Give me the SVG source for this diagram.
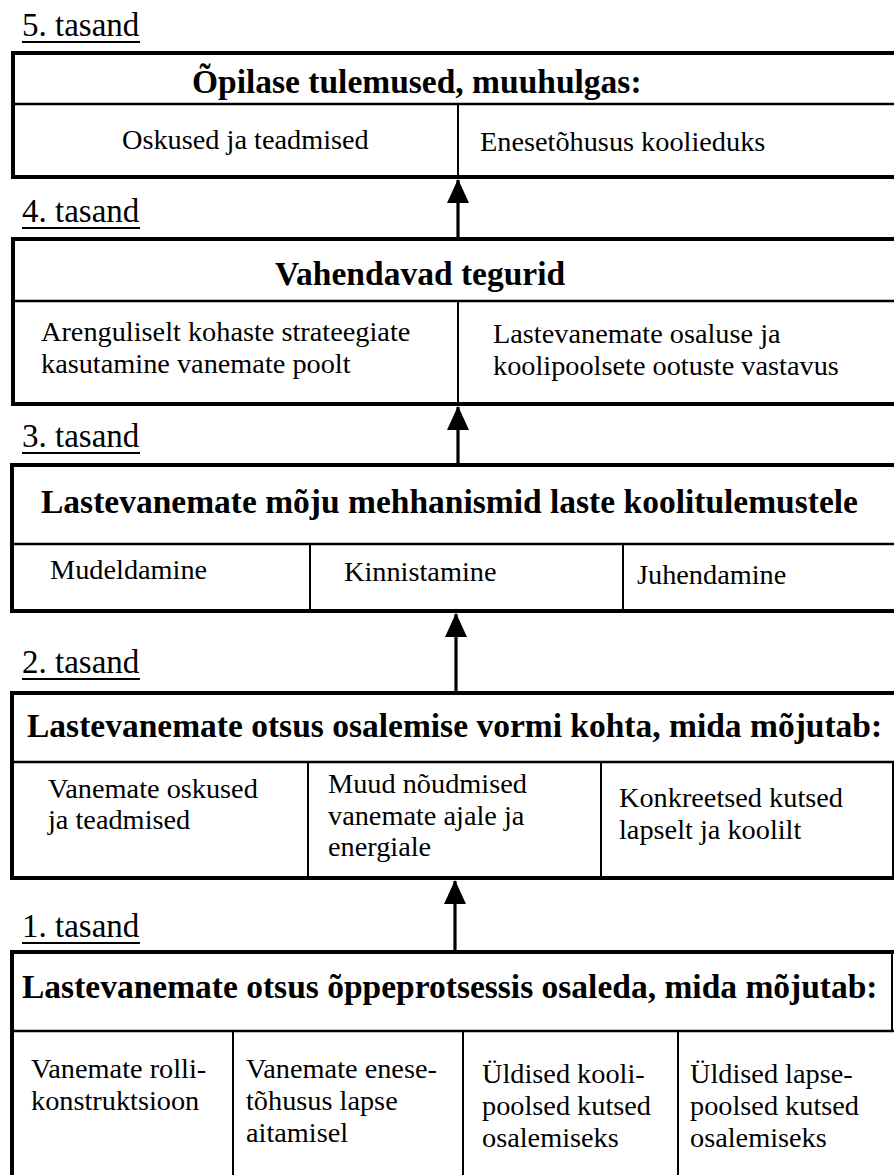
<svg xmlns="http://www.w3.org/2000/svg" width="894" height="1175" viewBox="0 0 894 1175">
  <defs>
    <marker id="arrowhead" markerUnits="userSpaceOnUse" markerWidth="24" markerHeight="26" refX="23" refY="11" orient="auto">
      <path d="M0,0 L24,11 L0,22 Z" fill="#000"/>
    </marker>
  </defs>
  <style>
    text { font-family: "Liberation Serif", "Times New Roman", serif; fill: #000; }
    .level { font-size: 33px; }
    .title { font-size: 33.5px; font-weight: bold; }
    .body { font-size: 28.3px; }
    .frame { fill: #fff; stroke: #000; stroke-width: 4; }
    .rule { stroke: #000; stroke-width: 2.5; }
    .cell { stroke: #000; stroke-width: 2; }
    .uline { stroke: #000; stroke-width: 1.8; }
    .link { stroke: #000; stroke-width: 3.2; fill: none; }
  </style>
  <rect width="894" height="1175" fill="#fff"/>

  <!-- Level 5 -->
  <g id="level5">
    <text class="level" x="22" y="36">5. tasand</text>
    <line class="uline" x1="22" y1="42" x2="140" y2="42"/>
    <rect class="frame" x="13" y="53" width="900" height="124"/>
    <line class="rule" x1="13" y1="104" x2="900" y2="104"/>
    <line class="cell" x1="458" y1="104" x2="458" y2="177"/>
    <text class="title" x="192" y="93">Õpilase tulemused, muuhulgas:</text>
    <text class="body" x="122" y="149">Oskused ja teadmised</text>
    <text class="body" x="480" y="151">Enesetõhusus koolieduks</text>
  </g>

  <!-- Level 4 -->
  <g id="level4">
    <text class="level" x="22" y="222">4. tasand</text>
    <line class="uline" x1="22" y1="228" x2="140" y2="228"/>
    <rect class="frame" x="13" y="239" width="900" height="165"/>
    <line class="rule" x1="13" y1="301" x2="900" y2="301"/>
    <line class="cell" x1="458" y1="301" x2="458" y2="404"/>
    <text class="title" x="275" y="285">Vahendavad tegurid</text>
    <text class="body" x="41" y="341">Arenguliselt kohaste strateegiate</text>
    <text class="body" x="41" y="373">kasutamine vanemate poolt</text>
    <text class="body" x="493" y="343">Lastevanemate osaluse ja</text>
    <text class="body" x="493" y="375">koolipoolsete ootuste vastavus</text>
  </g>

  <!-- Level 3 -->
  <g id="level3">
    <text class="level" x="22" y="447">3. tasand</text>
    <line class="uline" x1="22" y1="453" x2="140" y2="453"/>
    <rect class="frame" x="12" y="465" width="900" height="146"/>
    <line class="rule" x1="12" y1="544" x2="900" y2="544"/>
    <line class="cell" x1="310" y1="544" x2="310" y2="611"/>
    <line class="cell" x1="623" y1="544" x2="623" y2="611"/>
    <text class="title" x="41" y="513">Lastevanemate mõju mehhanismid laste koolitulemustele</text>
    <text class="body" x="50" y="579">Mudeldamine</text>
    <text class="body" x="344" y="581">Kinnistamine</text>
    <text class="body" x="637" y="584">Juhendamine</text>
  </g>

  <!-- Level 2 -->
  <g id="level2">
    <text class="level" x="22" y="673">2. tasand</text>
    <line class="uline" x1="22" y1="679" x2="140" y2="679"/>
    <rect class="frame" x="12" y="693" width="900" height="185"/>
    <line class="rule" x1="12" y1="762" x2="900" y2="762"/>
    <line class="cell" x1="308" y1="762" x2="308" y2="878"/>
    <line class="cell" x1="601" y1="762" x2="601" y2="878"/>
    <line class="cell" x1="893" y1="762" x2="893" y2="878"/>
    <text class="title" x="27" y="737">Lastevanemate otsus osalemise vormi kohta, mida mõjutab:</text>
    <text class="body" x="48" y="798">Vanemate oskused</text>
    <text class="body" x="48" y="829">ja teadmised</text>
    <text class="body" x="328" y="793">Muud nõudmised</text>
    <text class="body" x="328" y="825">vanemate ajale ja</text>
    <text class="body" x="328" y="856">energiale</text>
    <text class="body" x="619" y="807">Konkreetsed kutsed</text>
    <text class="body" x="619" y="839">lapselt ja koolilt</text>
  </g>

  <!-- Level 1 -->
  <g id="level1">
    <text class="level" x="22" y="937">1. tasand</text>
    <line class="uline" x1="22" y1="943" x2="140" y2="943"/>
    <rect class="frame" x="12" y="952" width="900" height="240"/>
    <line class="rule" x1="12" y1="1031" x2="900" y2="1031"/>
    <line class="cell" x1="233" y1="1031" x2="233" y2="1180"/>
    <line class="cell" x1="463" y1="1031" x2="463" y2="1180"/>
    <line class="cell" x1="678" y1="1031" x2="678" y2="1180"/>
    <line class="cell" x1="892" y1="952" x2="892" y2="1031"/>
    <text class="title" x="22" y="998">Lastevanemate otsus õppeprotsessis osaleda, mida mõjutab:</text>
    <text class="body" x="31" y="1078">Vanemate rolli-</text>
    <text class="body" x="31" y="1110">konstruktsioon</text>
    <text class="body" x="246" y="1078">Vanemate enese-</text>
    <text class="body" x="246" y="1110">tõhusus lapse</text>
    <text class="body" x="246" y="1142">aitamisel</text>
    <text class="body" x="482" y="1083">Üldised kooli-</text>
    <text class="body" x="482" y="1115">poolsed kutsed</text>
    <text class="body" x="482" y="1147">osalemiseks</text>
    <text class="body" x="690" y="1083">Üldised lapse-</text>
    <text class="body" x="690" y="1115">poolsed kutsed</text>
    <text class="body" x="690" y="1147">osalemiseks</text>
  </g>

  <!-- Upward links between levels -->
  <g id="connectors">
    <line class="link" x1="458" y1="237" x2="458" y2="180" marker-end="url(#arrowhead)"/>
    <line class="link" x1="458" y1="463" x2="458" y2="407" marker-end="url(#arrowhead)"/>
    <line class="link" x1="456" y1="691" x2="456" y2="614" marker-end="url(#arrowhead)"/>
    <line class="link" x1="455" y1="950" x2="455" y2="881" marker-end="url(#arrowhead)"/>
  </g>
</svg>
